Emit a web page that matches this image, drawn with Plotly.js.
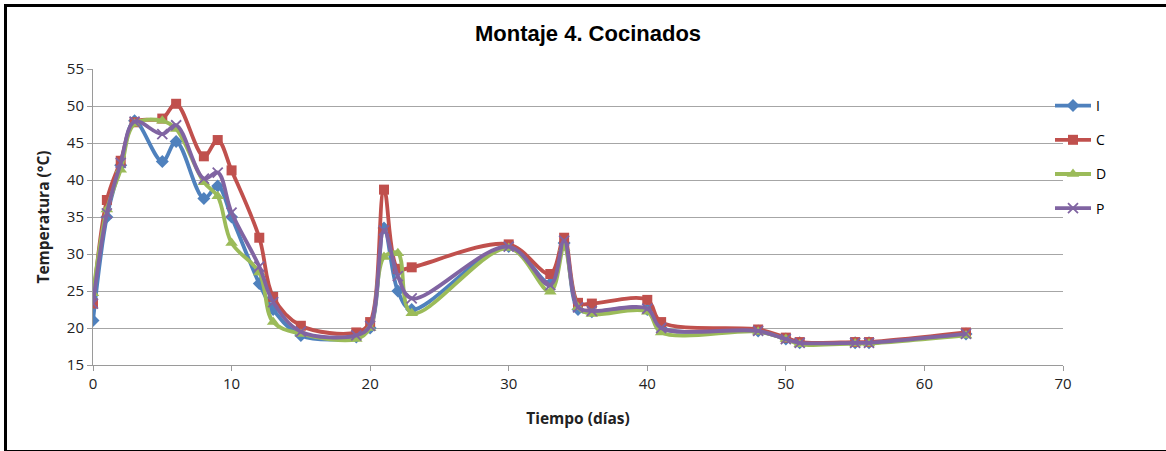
<!DOCTYPE html>
<html>
<head>
<meta charset="utf-8">
<script src="https://cdn.plot.ly/plotly-3.0.1.min.js"></script>
<style>
  html, body { margin: 0; padding: 0; background: #ffffff; }
  #wrap { position: relative; width: 1166px; height: 451px; overflow: hidden; }
  #chart { position: absolute; left: 0; top: 0; width: 1166px; height: 451px; }
  #frame { position: absolute; left: 4px; top: 4px; width: 1180px; height: 443px;
           border: 3px solid #000; pointer-events: none; }
</style>
</head>
<body>
<div id="wrap">
  <div id="chart"></div>
  <div id="frame"></div>
</div>
<script>
// ---- data ----
const days = [0, 1, 2, 3, 5, 6, 8, 9, 10, 12, 13, 15, 19, 20, 21, 22, 23, 30, 33, 34, 35, 36, 40, 41, 48, 50, 51, 55, 56, 63];

const seriesI = [21.0, 35.0, 42.0, 48.0, 42.5, 45.2, 37.5, 39.2, 35.0, 26.0, 22.5, 19.0, 18.8, 20.0, 33.5, 25.0, 22.5, 31.0, 26.0, 31.5, 22.5, 22.2, 22.5, 20.0, 19.6, 18.5, 18.0, 18.0, 18.0, 19.2];
const seriesC = [23.3, 37.3, 42.6, 47.8, 48.3, 50.3, 43.2, 45.4, 41.3, 32.2, 24.2, 20.3, 19.4, 20.8, 38.7, 28.0, 28.2, 31.3, 27.3, 32.2, 23.4, 23.3, 23.8, 20.8, 19.8, 18.7, 18.1, 18.1, 18.1, 19.4];
const seriesD = [24.7, 36.0, 41.4, 47.6, 48.0, 46.9, 39.7, 37.8, 31.5, 27.5, 20.8, 19.2, 18.5, 20.0, 29.6, 30.1, 22.0, 30.8, 24.9, 30.8, 22.8, 21.9, 22.2, 19.4, 19.5, 18.5, 17.8, 17.9, 17.9, 19.0];
const seriesP = [23.3, 35.5, 42.3, 47.9, 46.2, 47.4, 40.2, 41.0, 35.6, 28.3, 23.5, 19.5, 19.0, 20.3, 33.2, 27.0, 24.0, 31.0, 25.8, 31.8, 22.8, 22.3, 22.6, 20.0, 19.6, 18.5, 18.0, 18.0, 18.0, 19.2];

const seriesNames = ["I", "C", "D", "P"];
const yTickVals = [15, 20, 25, 30, 35, 40, 45, 50, 55];
const xTickVals = [0, 10, 20, 30, 40, 50, 60, 70];

// ---- styles ----
const colors = ["#4F81BD", "#C0504D", "#9BBB59", "#8064A2"];
const symbols = ["diamond", "square", "triangle-up", "x-thin"];
const sizes = [10, 10, 11, 10];
const allSeries = [seriesI, seriesC, seriesD, seriesP];

const traces = allSeries.map((vals, i) => ({
  type: "scatter",
  mode: "lines+markers",
  name: seriesNames[i],
  legendgroup: "g" + i,
  x: days,
  y: vals,
  line: { color: colors[i], width: 3.8, shape: "spline", smoothing: 1 },
  marker: {
    symbol: symbols[i],
    size: sizes[i],
    color: colors[i],
    line: i === 3 ? { color: colors[i], width: 1.8 } : { width: 0 }
  }
}));

const fontFam = "Open Sans, Liberation Sans, Arial, sans-serif";

const layout = {
  width: 1166,
  height: 451,
  paper_bgcolor: "rgba(0,0,0,0)",
  plot_bgcolor: "#ffffff",
  margin: { l: 93, r: 103, t: 69, b: 86 },
  font: { family: fontFam, size: 15, color: "#222" },
  title: {
    text: "<b>Montaje 4. Cocinados</b>",
    font: { family: "Liberation Sans, Arial, sans-serif", size: 22, color: "#000" },
    x: 588 / 1166, xanchor: "center",
    y: 1 - 33 / 451, yanchor: "middle"
  },
  xaxis: {
    range: [0, 70],
    tickvals: xTickVals,
    showgrid: false,
    zeroline: false,
    showline: true,
    linecolor: "#9a9a9a",
    linewidth: 1,
    ticks: "outside",
    ticklen: 5,
    tickcolor: "#9a9a9a",
    tickfont: { family: fontFam, size: 15, color: "#222" },
    title: { text: "<b>Tiempo (días)</b>", font: { family: fontFam, size: 15.5, color: "#222" }, standoff: 21 }
  },
  yaxis: {
    range: [15, 55],
    tickvals: yTickVals,
    showgrid: true,
    gridcolor: "#a6a6a6",
    gridwidth: 1,
    zeroline: false,
    showline: true,
    linecolor: "#9a9a9a",
    linewidth: 1,
    ticks: "outside",
    ticklen: 5,
    tickcolor: "#9a9a9a",
    tickfont: { family: fontFam, size: 15, color: "#222" },
    title: { text: "<b>Temperatura (°C)</b>", font: { family: fontFam, size: 15.5, color: "#222" }, standoff: 13 }
  },
  showlegend: true,
  legend: {
    x: (1050 - 93) / 970, xanchor: "left",
    y: (365 - 90) / 296, yanchor: "top",
    bgcolor: "rgba(0,0,0,0)",
    font: { family: fontFam, size: 14, color: "#000" },
    traceorder: "grouped",
    tracegroupgap: 13,
    itemwidth: 36
  }
};

Plotly.newPlot("chart", traces, layout, { displayModeBar: false, staticPlot: true });
</script>
</body>
</html>
